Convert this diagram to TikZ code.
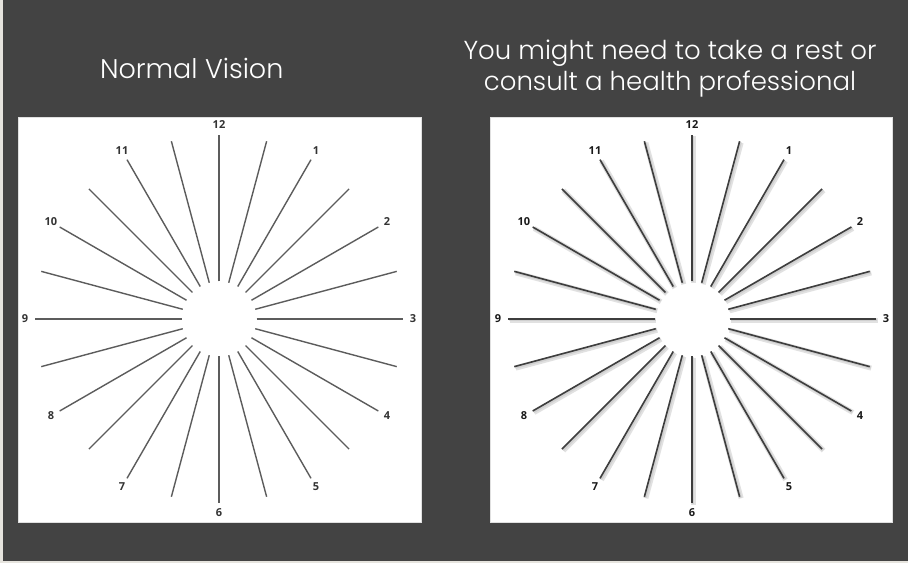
\documentclass[tikz,border=0pt]{standalone}
\usepackage{fontspec}
\setmainfont{Poppins}[UprightFont=* Light]
\newfontfamily\numfont{Open Sans}
\usepackage{xcolor}
\definecolor{slidebg}{HTML}{434343}
\definecolor{slideedge}{HTML}{E6E4DE}
\definecolor{spokegray}{HTML}{5C5C5C}
\definecolor{spokedark}{HTML}{3E3E3E}
\definecolor{halogray}{HTML}{BDBDBD}

\begin{document}
\begin{tikzpicture}[x=1pt,y=1pt,
		title/.style={text=white,inner sep=0pt,anchor=base},
		panel/.style={fill=white,draw=black!12,line width=0.6pt},
		spoke/.style={color=spokegray,line width=1.4pt},
		blurspoke/.style={color=spokedark,line width=1.6pt},
		haloline/.style={color=halogray,line width=#1,opacity=0.45},
		hour/.style={font=\numfont\bfseries\fontsize{11}{11}\selectfont,text=black!80,inner sep=0pt}]
		\fill [color=slideedge] (0,0) rectangle (908,563);
		\fill [color=slidebg] (3,2) rectangle (908,563);
		%
		\node [title,font=\fontsize{27}{32}\selectfont] (normal) at (191.7,484.7) {Normal Vision};
		\node [title,font=\fontsize{26}{31}\selectfont] (restA) at (670,503) {You might need to take a rest or};
		\node [title,font=\fontsize{26}{31}\selectfont] (restB) at (670,472.3) {consult a health professional};
		%
		\begin{scope}[shift={(219,244)}]
			\draw [panel] (-201,-203) rectangle (202,202);
			\foreach \a in {0,15,...,345}
				\draw [spoke] (\a:37.5) -- (\a:184);
			\foreach \h in {1,...,12}
				\node [hour] (l\h) at ({90-30*\h}:194) {\h};
		\end{scope}
		%
		\begin{scope}[shift={(692,244)}]
			\draw [panel] (-202,-203) rectangle (200,202);
			\foreach \a in {0,15,...,345} {
				\draw [haloline=5pt] ([shift={(1.5,-1.5)}]\a:37.5) -- ([shift={(1.5,-1.5)}]\a:184);
				\draw [haloline=2.5pt] ([shift={(1,-1)}]\a:37.5) -- ([shift={(1,-1)}]\a:184);
				\draw [blurspoke] (\a:37.5) -- (\a:184);
			}
			\foreach \h in {1,...,12}
				\node [hour,text=black!90] (r\h) at ({90-30*\h}:194) {\h};
		\end{scope}
	\end{tikzpicture}
\end{document}
